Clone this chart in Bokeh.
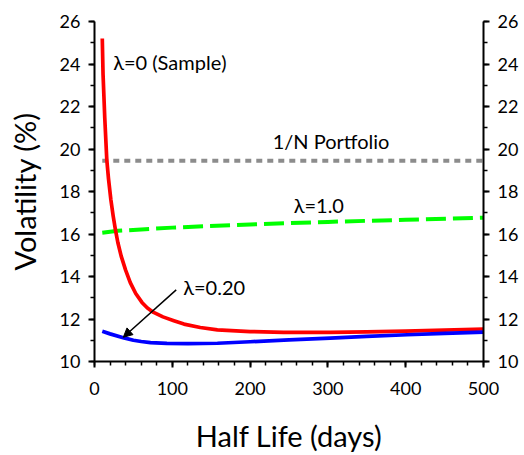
from bokeh.plotting import figure
from bokeh.models import LinearAxis, Label, Arrow, NormalHead, FixedTicker, Range1d
from bokeh.embed import file_html
from bokeh.resources import INLINE

# ---- data ----
red_days = [10, 11, 13.2, 15.8, 18, 21, 24, 27, 30, 34.3, 40, 46, 53, 61, 68, 76, 88, 102,
            115, 136, 158, 200, 243, 303, 350, 400, 450, 500]
red_vals = [25.2, 23.5, 21.46, 19.49, 18.6, 17.62, 16.85, 16.18, 15.6, 14.96, 14.3, 13.71, 13.2,
            12.78, 12.52, 12.31, 12.1, 11.92, 11.76, 11.6, 11.49, 11.41, 11.37, 11.37, 11.39,
            11.43, 11.48, 11.53]

blue_days = [10, 20, 38, 50, 60, 72, 93, 120, 158, 200, 250, 303, 350, 402, 450, 500]
blue_vals = [11.42, 11.30, 11.11, 11.0, 10.94, 10.89, 10.85, 10.84, 10.86, 10.93, 11.02, 11.10,
             11.18, 11.26, 11.32, 11.38]

green_days = [10, 30, 100, 200, 300, 400, 500]
green_vals = [16.06, 16.15, 16.30, 16.45, 16.57, 16.67, 16.77]

grey_days = [10, 500]
grey_vals = [19.45, 19.45]

x_ticks = [0, 100, 200, 300, 400, 500]
y_ticks = [10, 12, 14, 16, 18, 20, 22, 24, 26]

FONT = "Lato"

p = figure(width=524, height=455, output_backend="svg", toolbar_location=None,
           x_range=Range1d(0, 500), y_range=Range1d(10, 26),
           min_border_left=94, min_border_right=41, min_border_top=21, min_border_bottom=93)
p.outline_line_color = None
p.grid.grid_line_color = None
p.background_fill_color = "white"
p.border_fill_color = "white"

p.line(grey_days, grey_vals, line_color="#8c8c8c", line_width=4, line_dash="6 5")
p.line(green_days, green_vals, line_color="#00ff00", line_width=4, line_dash="20 7")
p.line(red_days, red_vals, line_color="#ff0000", line_width=3.7, line_join="round")
p.line(blue_days, blue_vals, line_color="#0000ff", line_width=3.7, line_join="round")

right = LinearAxis()
p.add_layout(right, "right")

for ax in [p.xaxis[0], p.yaxis[0], right]:
    ax.axis_line_width = 2
    ax.axis_line_color = "black"
    ax.major_tick_line_width = 2
    ax.minor_tick_line_width = 1.5
    ax.major_tick_out = 6
    ax.major_tick_in = 0
    ax.minor_tick_out = 4
    ax.minor_tick_in = 0
    ax.major_label_text_font = FONT
    ax.major_label_text_font_size = "18px"
    ax.major_label_text_color = "black"
    ax.major_label_standoff = 8
    ax.axis_label_text_font = FONT
    ax.axis_label_text_font_size = "29px"
    ax.axis_label_text_font_style = "normal"
    ax.axis_label_text_color = "black"

p.xaxis[0].ticker = FixedTicker(ticks=x_ticks, minor_ticks=list(range(0, 501, 20)))
p.yaxis[0].ticker = FixedTicker(ticks=y_ticks, minor_ticks=list(range(10, 27)))
right.ticker = FixedTicker(ticks=y_ticks, minor_ticks=list(range(10, 27)))
p.xaxis[0].axis_label = "Half Life (days)"
p.xaxis[0].axis_label_standoff = 20
p.xaxis[0].major_label_standoff = 14
p.yaxis[0].axis_label = "Volatility (%)"
p.yaxis[0].axis_label_standoff = 15

def lab(x, y, t):
    p.add_layout(Label(x=x, y=y, text=t, text_font=FONT, text_font_size="20px",
                       text_baseline="middle", text_align="left", text_color="black"))

lab(24, 24.08, "λ=0 (Sample)")
lab(229, 20.38, "1/N Portfolio")
lab(256, 17.38, "λ=1.0")
lab(114, 13.5, "λ=0.20")

p.add_layout(Arrow(end=NormalHead(size=9, fill_color="black", line_color="black"),
                   x_start=105, y_start=13.37, x_end=37, y_end=11.14,
                   line_color="black", line_width=1.5))

open("out.html", "w").write(file_html(p, INLINE))
